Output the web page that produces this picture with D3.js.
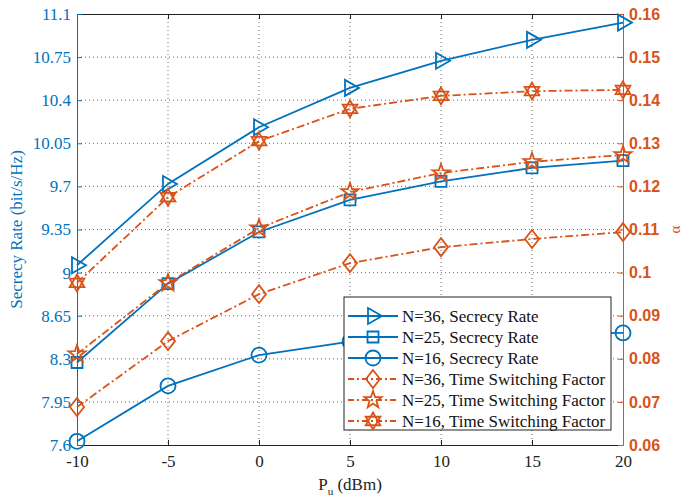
<!DOCTYPE html>
<html>
<head>
<meta charset="utf-8">
<script src="https://cdn.jsdelivr.net/npm/d3@7"></script>
<style>
  body { margin: 0; background: #fff; }
  svg { display: block; }
</style>
</head>
<body>
<script>
const powers = [-10, -5, 0, 5, 10, 15, 20];
const rateN36 = [9.06, 9.72, 10.18, 10.50, 10.72, 10.89, 11.03];
const rateN25 = [8.27, 8.91, 9.33, 9.59, 9.74, 9.85, 9.91];
const rateN16 = [7.63, 8.08, 8.33, 8.44, 8.48, 8.50, 8.51];
const tsfN36 = [0.0688, 0.0841, 0.0950, 0.1022, 0.1059, 0.1078, 0.1094];
const tsfN25 = [0.0811, 0.0976, 0.1103, 0.1187, 0.1231, 0.1257, 0.1273];
const tsfN16 = [0.0976, 0.1175, 0.1305, 0.1380, 0.1410, 0.1421, 0.1424];
const leftTicks = [7.6, 7.95, 8.3, 8.65, 9, 9.35, 9.7, 10.05, 10.4, 10.75, 11.1];
const rightTicks = [0.06, 0.07, 0.08, 0.09, 0.1, 0.11, 0.12, 0.13, 0.14, 0.15, 0.16];

const width = 685, height = 497;
const blue = '#0072BD', orange = '#D95319';
const pLeft = 77, pRight = 623, pTop = 14, pBottom = 445;

const svg = d3.select('body').append('svg')
    .attr('width', width)
    .attr('height', height);

const x = d3.scaleLinear().domain([-10, 20]).range([pLeft, pRight]);
const yL = d3.scaleLinear().domain([7.6, 11.1]).range([pBottom, pTop]);
const yR = d3.scaleLinear().domain([0.06, 0.16]).range([pBottom, pTop]);

// grid
const grid = svg.append('g')
    .attr('stroke', '#444')
    .attr('stroke-width', 0.8)
    .attr('stroke-dasharray', '1,3');
grid.selectAll('.gx').data(powers.slice(1, -1)).enter().append('line')
    .attr('x1', d => x(d)).attr('x2', d => x(d))
    .attr('y1', pTop).attr('y2', pBottom);
grid.selectAll('.gy').data(leftTicks.slice(1, -1)).enter().append('line')
    .attr('x1', pLeft).attr('x2', pRight)
    .attr('y1', d => yL(d)).attr('y2', d => yL(d));

// axes
const fontSerif = '"Liberation Serif", "Times New Roman", serif';
const fs = 17;

const xAxis = svg.append('g')
    .attr('transform', `translate(0,${pBottom})`)
    .call(d3.axisBottom(x).tickValues(powers).tickSizeInner(-5).tickSizeOuter(0).tickPadding(10)
        .tickFormat(d => String(d)));
xAxis.selectAll('text').attr('font-family', fontSerif).attr('font-size', fs).attr('fill', '#222');
xAxis.select('.domain').attr('stroke', '#222');
xAxis.selectAll('line').attr('stroke', '#222');

const xTop = svg.append('g')
    .attr('transform', `translate(0,${pTop})`)
    .call(d3.axisTop(x).tickValues(powers).tickSizeInner(-5).tickSizeOuter(0).tickFormat(''));
xTop.select('.domain').attr('stroke', '#222');
xTop.selectAll('line').attr('stroke', '#222');

const yAxisL = svg.append('g')
    .attr('transform', `translate(${pLeft},0)`)
    .call(d3.axisLeft(yL).tickValues(leftTicks).tickSizeInner(-5).tickSizeOuter(0).tickPadding(6)
        .tickFormat(d => String(+d.toFixed(2))));
yAxisL.selectAll('text').attr('font-family', fontSerif).attr('font-size', fs).attr('fill', blue);
yAxisL.select('.domain').attr('stroke', blue);
yAxisL.selectAll('line').attr('stroke', blue);

const yAxisR = svg.append('g')
    .attr('transform', `translate(${pRight},0)`)
    .call(d3.axisRight(yR).tickValues(rightTicks).tickSizeInner(-5).tickSizeOuter(0).tickPadding(6)
        .tickFormat(d => String(+d.toFixed(2))));
yAxisR.selectAll('text').attr('font-family', '"Liberation Sans", Arial, sans-serif')
    .attr('font-size', 16).attr('font-weight', 'bold').attr('fill', orange);
yAxisR.select('.domain').attr('stroke', orange);
yAxisR.selectAll('line').attr('stroke', orange);

// labels
svg.append('text')
    .attr('transform', `translate(22,${(pTop + pBottom) / 2}) rotate(-90)`)
    .attr('text-anchor', 'middle')
    .attr('font-family', fontSerif).attr('font-size', fs).attr('fill', blue)
    .text('Secrecy Rate (bit/s/Hz)');

svg.append('text')
    .attr('transform', `translate(680,${(pTop + pBottom) / 2}) rotate(-90)`)
    .attr('text-anchor', 'middle')
    .attr('font-family', fontSerif).attr('font-size', 15).attr('fill', orange)
    .text('α');

const xl = svg.append('text')
    .attr('x', (pLeft + pRight) / 2).attr('y', 490)
    .attr('text-anchor', 'middle')
    .attr('font-family', fontSerif).attr('font-size', fs).attr('fill', '#222');
xl.append('tspan').text('P');
xl.append('tspan').attr('font-size', 11).attr('dy', 5).text('u');
xl.append('tspan').attr('dy', -5).text(' (dBm)');

// marker shapes
function starPath(n, ro, ri) {
  const pts = [];
  for (let i = 0; i < 2 * n; i++) {
    const a = -Math.PI / 2 + i * Math.PI / n;
    const r = i % 2 === 0 ? ro : ri;
    pts.push([r * Math.cos(a), r * Math.sin(a)]);
  }
  return 'M' + pts.map(p => p.join(',')).join('L') + 'Z';
}
function hexagram(r) {
  const tri = off => {
    const p = [];
    for (let i = 0; i < 3; i++) {
      const a = -Math.PI / 2 + off + i * 2 * Math.PI / 3;
      p.push([r * Math.cos(a), r * Math.sin(a)]);
    }
    return 'M' + p.map(q => q.join(',')).join('L') + 'Z';
  };
  return tri(0) + tri(Math.PI);
}
const markers = {
  tri: 'M-5,-8L9,0L-5,8Z',
  square: 'M-5.5,-5.5H5.5V5.5H-5.5Z',
  circle: 'M7.5,0A7.5,7.5 0 1,1 -7.5,0A7.5,7.5 0 1,1 7.5,0Z',
  diamond: 'M0,-9L7,0L0,9L-7,0Z',
  pent: starPath(5, 9, 3.6),
  hex: hexagram(8.5)
};

const series = [
  { name: 'N=36, Secrecy Rate', vals: rateN36, y: yL, color: blue, dash: null, mk: 'tri' },
  { name: 'N=25, Secrecy Rate', vals: rateN25, y: yL, color: blue, dash: null, mk: 'square' },
  { name: 'N=16, Secrecy Rate', vals: rateN16, y: yL, color: blue, dash: null, mk: 'circle' },
  { name: 'N=36, Time Switching Factor', vals: tsfN36, y: yR, color: orange, dash: '8,3,2,3', mk: 'diamond' },
  { name: 'N=25, Time Switching Factor', vals: tsfN25, y: yR, color: orange, dash: '8,3,2,3', mk: 'pent' },
  { name: 'N=16, Time Switching Factor', vals: tsfN16, y: yR, color: orange, dash: '8,3,2,3', mk: 'hex' }
];

const plot = svg.append('g');
series.forEach(s => {
  const line = d3.line().x((d, i) => x(powers[i])).y(d => s.y(d));
  plot.append('path')
      .datum(s.vals)
      .attr('d', line)
      .attr('fill', 'none')
      .attr('stroke', s.color)
      .attr('stroke-width', 1.8)
      .attr('stroke-dasharray', s.dash);
  plot.selectAll(null).data(s.vals).enter().append('path')
      .attr('d', markers[s.mk])
      .attr('transform', (d, i) => `translate(${x(powers[i])},${s.y(d)})`)
      .attr('fill', 'none')
      .attr('stroke', s.color)
      .attr('stroke-width', 1.8);
});

// legend
const lg = svg.append('g').attr('transform', 'translate(344,297)');
lg.append('rect')
    .attr('width', 267).attr('height', 133)
    .attr('fill', '#fff').attr('stroke', '#222').attr('stroke-width', 1);
series.forEach((s, i) => {
  const yy = 19 + i * 21;
  lg.append('line')
      .attr('x1', 4).attr('x2', 54).attr('y1', yy).attr('y2', yy)
      .attr('stroke', s.color).attr('stroke-width', 1.8)
      .attr('stroke-dasharray', s.dash ? '6,3,2,3' : null);
  lg.append('path')
      .attr('d', markers[s.mk])
      .attr('transform', `translate(29,${yy})`)
      .attr('fill', 'none').attr('stroke', s.color).attr('stroke-width', 1.8);
  lg.append('text')
      .attr('x', 58).attr('y', yy + 6)
      .attr('font-family', fontSerif).attr('font-size', fs).attr('fill', '#111')
      .text(s.name);
});
</script>
</body>
</html>
